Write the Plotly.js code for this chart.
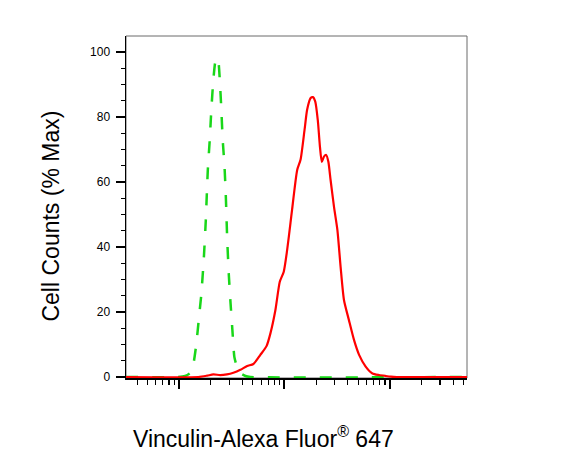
<!DOCTYPE html>
<html>
<head>
<meta charset="utf-8">
<script src="https://cdn.plot.ly/plotly-3.0.1.min.js"></script>
<style>html,body{margin:0;padding:0;background:#fff;}#chart{width:583px;height:465px;}</style>
</head>
<body>
<div id="chart"></div>
<script>
// Isotype / unstained control (green dashed)
const controlFluor = [3.13, 9.77, 11.4, 12.7, 13.6, 14.5, 15.5, 16.2, 17.1, 17.9, 18.7, 19.5, 20.2, 21.1, 22.0, 22.8, 23.5, 24.3, 25.1, 25.9, 26.9, 27.7, 28.6, 29.6, 30.6, 32.0, 33.4, 35.6, 38.1, 42.6, 47.4, 5408];
const controlCounts = [0, 0, 0.3, 1.2, 3.7, 9.8, 19.1, 25.2, 36.0, 48.3, 63.7, 72.9, 82.2, 91.4, 96.9, 98.2, 97.5, 91.4, 82.8, 72.9, 65.2, 56.0, 42.2, 31.4, 23.7, 14.5, 6.2, 2.8, 1.2, 0.3, 0, 0];

// Vinculin-Alexa Fluor 647 stained (red solid)
const stainedFluor = [3.13, 15.2, 18.4, 21.1, 24.5, 28.4, 32.7, 38.1, 44.2, 50.7, 59.0, 67.5, 73.6, 82.0, 90.2, 98.4, 106, 114, 118, 132, 142, 155, 164, 177, 186, 196, 207, 217, 226, 237, 249, 261, 274, 295, 318, 341, 367, 409, 457, 511, 590, 684, 791, 916, 1023, 1167, 5408];
const stainedCounts = [0, 0, 0.4, 0.8, 0.6, 0.8, 1.3, 2.2, 3.4, 4.0, 6.8, 9.5, 13.5, 20.6, 29.3, 32.4, 39.1, 47.4, 51.4, 63.7, 66.8, 76.0, 82.2, 85.8, 86.1, 84.7, 79.1, 70.9, 66.2, 67.8, 68.3, 66.2, 60.6, 52.4, 45.2, 33.9, 23.7, 17.5, 11.4, 6.8, 3.2, 1.1, 0.6, 0.3, 0.1, 0, 0];

const yTickVals = [0, 20, 40, 60, 80, 100];
const yTickText = ['0', '20', '40', '60', '80', '100'];
const xMajorTicks = [10, 100, 1000];
const xMinorTicks = [4, 5, 6, 7, 8, 9, 20, 30, 40, 50, 60, 70, 80, 90, 200, 300, 400, 500, 600, 700, 800, 900, 2000, 3000, 4000, 5000];

const xTitle = 'Vinculin-Alexa Fluor<sup>®</sup> 647';
const yTitle = 'Cell Counts (% Max)';

const traces = [
  {
    x: controlFluor, y: controlCounts, type: 'scatter', mode: 'lines',
    line: {color: 'rgb(25,215,25)', width: 2.5, dash: '12px,14px', shape: 'spline', smoothing: 0.5},
    showlegend: false, hoverinfo: 'skip'
  },
  {
    x: stainedFluor, y: stainedCounts, type: 'scatter', mode: 'lines',
    line: {color: '#ff0000', width: 2.2, shape: 'spline', smoothing: 0.6},
    showlegend: false, hoverinfo: 'skip'
  }
];

const font = 'Liberation Sans, Arial, sans-serif';

const layout = {
  width: 583, height: 465,
  margin: {l: 126, r: 116, t: 36, b: 87, pad: 0},
  paper_bgcolor: '#ffffff', plot_bgcolor: '#ffffff',
  font: {family: font, color: '#000'},
  xaxis: {
    type: 'log', range: [0.495, 3.733],
    showgrid: false, zeroline: false,
    showline: true, linecolor: '#000', linewidth: 1.5,
    tickmode: 'array', tickvals: xMajorTicks, showticklabels: false,
    ticks: 'outside', ticklen: 9, tickwidth: 2, tickcolor: '#000',
    minor: {tickmode: 'array', tickvals: xMinorTicks, ticks: 'outside', ticklen: 5, tickwidth: 1.2, tickcolor: '#000', showgrid: false},
    layer: 'below traces', fixedrange: true
  },
  yaxis: {
    range: [-0.31, 104.9],
    showgrid: false, zeroline: false,
    showline: true, linecolor: '#000', linewidth: 1.5,
    tickmode: 'array', tickvals: yTickVals, ticktext: yTickText,
    ticks: 'outside', ticklen: 9, tickwidth: 2, tickcolor: '#000',
    ticklabelstandoff: 3,
    tickfont: {family: font, size: 12, color: '#000'},
    minor: {dtick: 5, ticks: 'outside', ticklen: 4, tickwidth: 1.2, tickcolor: '#000', showgrid: false},
    layer: 'below traces', fixedrange: true
  },
  shapes: [
    {type: 'rect', xref: 'paper', yref: 'paper', x0: 0, x1: 1, y0: 0, y1: 1,
     line: {color: '#6a6a6a', width: 1}, layer: 'below'}
  ],
  annotations: [
    {text: xTitle, xref: 'paper', yref: 'paper', x: 0.4036, y: -0.1725,
     xanchor: 'center', yanchor: 'middle', showarrow: false,
     font: {family: font, size: 23, color: '#000'}},
    {text: yTitle, xref: 'paper', yref: 'paper', x: -0.22, y: 0.475,
     xanchor: 'center', yanchor: 'middle', showarrow: false, textangle: -90,
     font: {family: font, size: 23, color: '#000'}}
  ]
};

Plotly.newPlot('chart', traces, layout, {staticPlot: true, displayModeBar: false});
</script>
</body>
</html>
